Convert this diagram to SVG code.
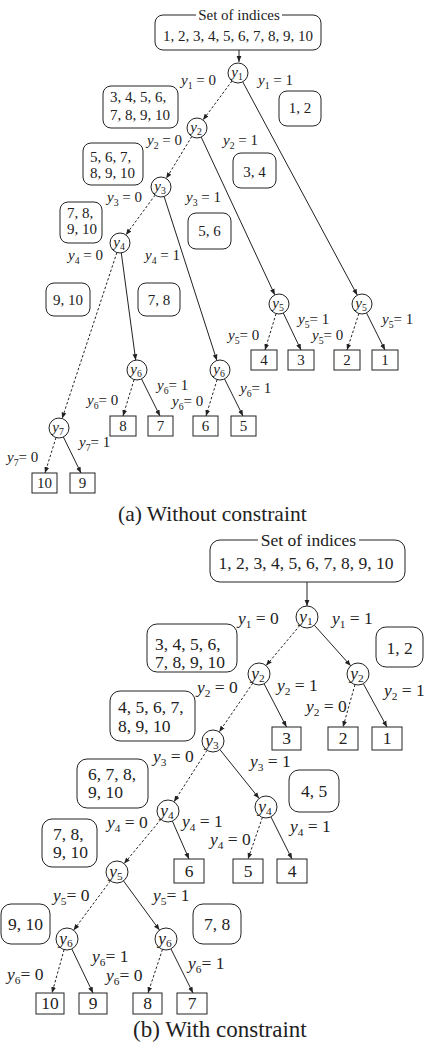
<svg xmlns="http://www.w3.org/2000/svg" width="425" height="1049" viewBox="0 0 425 1049">
<style>
text{font-family:"Liberation Serif","Times New Roman",serif;fill:#222}
.a{font-size:15px}
.b{font-size:17.5px}
.i{font-style:italic}
.s{font-size:0.65em}
.bx{fill:none;stroke:#222;stroke-width:1}
.nd{fill:#fff;stroke:#222;stroke-width:1}
.e{fill:none;stroke:#222;stroke-width:1;marker-end:url(#ah)}
.d{fill:none;stroke:#222;stroke-width:1;stroke-dasharray:2.5 2;marker-end:url(#ah)}
.cap{font-size:21.5px}
.capb{font-size:23px}
</style>
<defs>
<marker id="ah" viewBox="0 0 10 10" refX="10" refY="5" markerWidth="6" markerHeight="6" markerUnits="userSpaceOnUse" orient="auto"><path d="M0,1 L10,5 L0,9 z" fill="#222"/></marker>
</defs>
<rect width="425" height="1049" fill="#fff"/>

<g id="connectors">
<!-- (a) -->
<path class="e" d="M239,50 L239,62"/>
<path class="d" d="M232,81 L203,120"/>
<path class="e" d="M242.7,81.8 L357.3,295.2"/>
<path class="d" d="M191.8,136.5 L166.2,178.5"/>
<path class="e" d="M201.2,137.1 L274.8,294.9"/>
<path class="d" d="M155.1,195.1 L125.9,234.9"/>
<path class="e" d="M164.1,196.5 L216.9,360.5"/>
<path class="d" d="M116.9,252.5 L62.1,418.5"/>
<path class="e" d="M121.3,252.9 L135.7,360.1"/>
<path class="d" d="M276.1,313.6 L265,350"/>
<path class="e" d="M283.3,313 L301,350"/>
<path class="d" d="M358.9,313.5 L347,350"/>
<path class="e" d="M366.5,312.9 L385,350"/>
<path class="d" d="M134.1,379.6 L123,416"/>
<path class="e" d="M141.5,378.9 L160,416"/>
<path class="d" d="M217.1,379.6 L206,416"/>
<path class="e" d="M224.5,378.9 L243,416"/>
<path class="d" d="M56,437.6 L45,473"/>
<path class="e" d="M63.4,437 L81,473"/>
<!-- (b) -->
<path class="e" d="M307,582 L307,606"/>
<path class="d" d="M299.9,625.4 L266.1,665.6"/>
<path class="e" d="M314.3,625.2 L350.7,665.8"/>
<path class="d" d="M252.8,683.1 L219.2,731.9"/>
<path class="e" d="M264.1,683.8 L286.5,727"/>
<path class="d" d="M355,684.6 L343,727"/>
<path class="e" d="M363.3,683.6 L387,727"/>
<path class="d" d="M207,750.3 L174,801.7"/>
<path class="e" d="M219.9,749.6 L259.1,798.4"/>
<path class="d" d="M160.9,819.4 L124.1,863.6"/>
<path class="e" d="M172.4,821.1 L189,859"/>
<path class="d" d="M262.4,817.4 L248,859"/>
<path class="e" d="M270.9,816.8 L292,859"/>
<path class="d" d="M110.4,880.8 L73.6,930.2"/>
<path class="e" d="M123.5,880.9 L159.5,930.1"/>
<path class="d" d="M64.1,949.6 L52,993"/>
<path class="e" d="M71.8,948.9 L93,993"/>
<path class="d" d="M162.5,949.4 L148,993"/>
<path class="e" d="M170.9,948.8 L193,993"/>
</g>

<g id="a-set"><rect class="bx" x="155" y="15" width="166" height="35" rx="8"/><rect x="196" y="9" width="86" height="10" fill="#fff"/><text class="a" x="239" y="20" text-anchor="middle">Set of indices</text><text class="a" x="238" y="41" text-anchor="middle">1, 2, 3, 4, 5, 6, 7, 8, 9, 10</text></g>
<g id="a-s1"><rect class="bx" x="103" y="86" width="75" height="42" rx="8"/><text class="a" x="110" y="102">3, 4, 5, 6,</text><text class="a" x="110" y="120">7, 8, 9, 10</text></g>
<g id="a-s2"><rect class="bx" x="279" y="91" width="42" height="35" rx="8"/><text class="a" x="300" y="113" text-anchor="middle">1, 2</text></g>
<g id="a-s3"><rect class="bx" x="83" y="143" width="60" height="42" rx="8"/><text class="a" x="90" y="162">5, 6, 7,</text><text class="a" x="90" y="178">8, 9, 10</text></g>
<g id="a-s4"><rect class="bx" x="233" y="153" width="43" height="35" rx="8"/><text class="a" x="254.5" y="177" text-anchor="middle">3, 4</text></g>
<g id="a-s5"><rect class="bx" x="60" y="202" width="42" height="41" rx="8"/><text class="a" x="67" y="218">7, 8,</text><text class="a" x="67" y="234">9, 10</text></g>
<g id="a-s6"><rect class="bx" x="188" y="213" width="43" height="36" rx="8"/><text class="a" x="209.5" y="236" text-anchor="middle">5, 6</text></g>
<g id="a-s7"><rect class="bx" x="46" y="283" width="44" height="33" rx="8"/><text class="a" x="68" y="305" text-anchor="middle">9, 10</text></g>
<g id="a-s8"><rect class="bx" x="138" y="283" width="42" height="33" rx="8"/><text class="a" x="159" y="305" text-anchor="middle">7, 8</text></g>

<g id="a-y1"><circle class="nd" cx="238" cy="73" r="10"/><text class="a" x="237" y="77" text-anchor="middle"><tspan class="i">y</tspan><tspan class="s" dy="3">1</tspan></text></g>
<g id="a-y2"><circle class="nd" cx="197" cy="128" r="10"/><text class="a" x="196" y="132" text-anchor="middle"><tspan class="i">y</tspan><tspan class="s" dy="3">2</tspan></text></g>
<g id="a-y3"><circle class="nd" cx="161" cy="187" r="10"/><text class="a" x="160" y="191" text-anchor="middle"><tspan class="i">y</tspan><tspan class="s" dy="3">3</tspan></text></g>
<g id="a-y4"><circle class="nd" cx="120" cy="243" r="10"/><text class="a" x="119" y="247" text-anchor="middle"><tspan class="i">y</tspan><tspan class="s" dy="3">4</tspan></text></g>
<g id="a-y5a"><circle class="nd" cx="279" cy="304" r="10"/><text class="a" x="278" y="308" text-anchor="middle"><tspan class="i">y</tspan><tspan class="s" dy="3">5</tspan></text></g>
<g id="a-y5b"><circle class="nd" cx="362" cy="304" r="10"/><text class="a" x="361" y="308" text-anchor="middle"><tspan class="i">y</tspan><tspan class="s" dy="3">5</tspan></text></g>
<g id="a-y6a"><circle class="nd" cx="137" cy="370" r="10"/><text class="a" x="136" y="374" text-anchor="middle"><tspan class="i">y</tspan><tspan class="s" dy="3">6</tspan></text></g>
<g id="a-y6b"><circle class="nd" cx="220" cy="370" r="10"/><text class="a" x="219" y="374" text-anchor="middle"><tspan class="i">y</tspan><tspan class="s" dy="3">6</tspan></text></g>
<g id="a-y7"><circle class="nd" cx="59" cy="428" r="10"/><text class="a" x="58" y="432" text-anchor="middle"><tspan class="i">y</tspan><tspan class="s" dy="3">7</tspan></text></g>

<g id="a-l4"><rect class="bx" x="251" y="350" width="26" height="20"/><text class="a" x="264" y="365" text-anchor="middle">4</text></g>
<g id="a-l3"><rect class="bx" x="288" y="350" width="26" height="20"/><text class="a" x="301" y="365" text-anchor="middle">3</text></g>
<g id="a-l2"><rect class="bx" x="334" y="350" width="26" height="20"/><text class="a" x="347" y="365" text-anchor="middle">2</text></g>
<g id="a-l1"><rect class="bx" x="372" y="350" width="26" height="20"/><text class="a" x="385" y="365" text-anchor="middle">1</text></g>
<g id="a-l8"><rect class="bx" x="110" y="416" width="26" height="20"/><text class="a" x="123" y="431" text-anchor="middle">8</text></g>
<g id="a-l7"><rect class="bx" x="148" y="416" width="25" height="20"/><text class="a" x="160.5" y="431" text-anchor="middle">7</text></g>
<g id="a-l6"><rect class="bx" x="193" y="416" width="25" height="20"/><text class="a" x="205.5" y="431" text-anchor="middle">6</text></g>
<g id="a-l5"><rect class="bx" x="231" y="416" width="25" height="20"/><text class="a" x="243.5" y="431" text-anchor="middle">5</text></g>
<g id="a-l10"><rect class="bx" x="32" y="473" width="25" height="20"/><text class="a" x="44.5" y="488" text-anchor="middle">10</text></g>
<g id="a-l9"><rect class="bx" x="70" y="473" width="25" height="20"/><text class="a" x="82.5" y="488" text-anchor="middle">9</text></g>

<g id="a-labels">
<text class="a" x="181" y="85"><tspan class="i">y</tspan><tspan class="s" dy="4">1</tspan><tspan dy="-4"> = 0</tspan></text>
<text class="a" x="258" y="85"><tspan class="i">y</tspan><tspan class="s" dy="4">1</tspan><tspan dy="-4"> = 1</tspan></text>
<text class="a" x="147" y="145"><tspan class="i">y</tspan><tspan class="s" dy="4">2</tspan><tspan dy="-4"> = 0</tspan></text>
<text class="a" x="223" y="145"><tspan class="i">y</tspan><tspan class="s" dy="4">2</tspan><tspan dy="-4"> = 1</tspan></text>
<text class="a" x="107" y="202"><tspan class="i">y</tspan><tspan class="s" dy="4">3</tspan><tspan dy="-4"> = 0</tspan></text>
<text class="a" x="186" y="202"><tspan class="i">y</tspan><tspan class="s" dy="4">3</tspan><tspan dy="-4"> = 1</tspan></text>
<text class="a" x="68" y="260"><tspan class="i">y</tspan><tspan class="s" dy="4">4</tspan><tspan dy="-4"> = 0</tspan></text>
<text class="a" x="145" y="260"><tspan class="i">y</tspan><tspan class="s" dy="4">4</tspan><tspan dy="-4"> = 1</tspan></text>
<text class="a" x="228" y="340"><tspan class="i">y</tspan><tspan class="s" dy="4">5</tspan><tspan dy="-4">= 0</tspan></text>
<text class="a" x="298" y="324"><tspan class="i">y</tspan><tspan class="s" dy="4">5</tspan><tspan dy="-4">= 1</tspan></text>
<text class="a" x="312" y="340"><tspan class="i">y</tspan><tspan class="s" dy="4">5</tspan><tspan dy="-4">= 0</tspan></text>
<text class="a" x="382" y="324"><tspan class="i">y</tspan><tspan class="s" dy="4">5</tspan><tspan dy="-4">= 1</tspan></text>
<text class="a" x="87" y="405"><tspan class="i">y</tspan><tspan class="s" dy="4">6</tspan><tspan dy="-4">= 0</tspan></text>
<text class="a" x="157" y="390"><tspan class="i">y</tspan><tspan class="s" dy="4">6</tspan><tspan dy="-4">= 1</tspan></text>
<text class="a" x="172" y="406"><tspan class="i">y</tspan><tspan class="s" dy="4">6</tspan><tspan dy="-4">= 0</tspan></text>
<text class="a" x="240" y="393"><tspan class="i">y</tspan><tspan class="s" dy="4">6</tspan><tspan dy="-4">= 1</tspan></text>
<text class="a" x="7" y="462"><tspan class="i">y</tspan><tspan class="s" dy="4">7</tspan><tspan dy="-4">= 0</tspan></text>
<text class="a" x="79" y="447"><tspan class="i">y</tspan><tspan class="s" dy="4">7</tspan><tspan dy="-4">= 1</tspan></text>
</g>
<text class="cap" x="118" y="521">(a) Without constraint</text>

<g id="b-set"><rect class="bx" x="210" y="540" width="195" height="42" rx="10"/><rect x="258" y="534" width="101" height="11" fill="#fff"/><text class="b" x="308.5" y="546" text-anchor="middle">Set of indices</text><text class="b" x="306" y="569" text-anchor="middle">1, 2, 3, 4, 5, 6, 7, 8, 9, 10</text></g>
<g id="b-s1"><rect class="bx" x="147" y="624" width="90" height="48" rx="10"/><text class="b" x="155" y="650">3, 4, 5, 6,</text><text class="b" x="155" y="668">7, 8, 9, 10</text></g>
<g id="b-s2"><rect class="bx" x="376" y="627" width="47" height="40" rx="10"/><text class="b" x="399.5" y="654" text-anchor="middle">1, 2</text></g>
<g id="b-s3"><rect class="bx" x="110" y="691" width="85" height="50" rx="10"/><text class="b" x="118" y="713">4, 5, 6, 7,</text><text class="b" x="118" y="732">8, 9, 10</text></g>
<g id="b-s4"><rect class="bx" x="77" y="759" width="71" height="49" rx="10"/><text class="b" x="88" y="780">6, 7, 8,</text><text class="b" x="88" y="798">9, 10</text></g>
<g id="b-s5"><rect class="bx" x="289" y="770" width="50" height="42" rx="10"/><text class="b" x="314" y="797" text-anchor="middle">4, 5</text></g>
<g id="b-s6"><rect class="bx" x="42" y="819" width="55" height="48" rx="10"/><text class="b" x="53" y="840">7, 8,</text><text class="b" x="53" y="858">9, 10</text></g>
<g id="b-s7"><rect class="bx" x="1" y="904" width="49" height="40" rx="10"/><text class="b" x="25.5" y="930" text-anchor="middle">9, 10</text></g>
<g id="b-s8"><rect class="bx" x="193" y="904" width="48" height="40" rx="10"/><text class="b" x="217" y="930" text-anchor="middle">7, 8</text></g>

<g id="b-y1"><circle class="nd" cx="307" cy="617" r="11"/><text class="b" x="306" y="622" text-anchor="middle"><tspan class="i">y</tspan><tspan class="s" dy="3">1</tspan></text></g>
<g id="b-y2a"><circle class="nd" cx="259" cy="674" r="11"/><text class="b" x="258" y="679" text-anchor="middle"><tspan class="i">y</tspan><tspan class="s" dy="3">2</tspan></text></g>
<g id="b-y2b"><circle class="nd" cx="358" cy="674" r="11"/><text class="b" x="357" y="679" text-anchor="middle"><tspan class="i">y</tspan><tspan class="s" dy="3">2</tspan></text></g>
<g id="b-y3"><circle class="nd" cx="213" cy="741" r="11"/><text class="b" x="212" y="746" text-anchor="middle"><tspan class="i">y</tspan><tspan class="s" dy="3">3</tspan></text></g>
<g id="b-y4a"><circle class="nd" cx="168" cy="811" r="11"/><text class="b" x="167" y="816" text-anchor="middle"><tspan class="i">y</tspan><tspan class="s" dy="3">4</tspan></text></g>
<g id="b-y4b"><circle class="nd" cx="266" cy="807" r="11"/><text class="b" x="265" y="812" text-anchor="middle"><tspan class="i">y</tspan><tspan class="s" dy="3">4</tspan></text></g>
<g id="b-y5"><circle class="nd" cx="117" cy="872" r="11"/><text class="b" x="116" y="877" text-anchor="middle"><tspan class="i">y</tspan><tspan class="s" dy="3">5</tspan></text></g>
<g id="b-y6a"><circle class="nd" cx="67" cy="939" r="11"/><text class="b" x="66" y="944" text-anchor="middle"><tspan class="i">y</tspan><tspan class="s" dy="3">6</tspan></text></g>
<g id="b-y6b"><circle class="nd" cx="166" cy="939" r="11"/><text class="b" x="165" y="944" text-anchor="middle"><tspan class="i">y</tspan><tspan class="s" dy="3">6</tspan></text></g>

<g id="b-l3"><rect class="bx" x="272" y="727" width="29" height="23"/><text class="b" x="286.5" y="744" text-anchor="middle">3</text></g>
<g id="b-l2"><rect class="bx" x="328" y="727" width="30" height="23"/><text class="b" x="343" y="744" text-anchor="middle">2</text></g>
<g id="b-l1"><rect class="bx" x="372" y="727" width="30" height="23"/><text class="b" x="387" y="744" text-anchor="middle">1</text></g>
<g id="b-l6"><rect class="bx" x="174" y="859" width="30" height="24"/><text class="b" x="189" y="877" text-anchor="middle">6</text></g>
<g id="b-l5"><rect class="bx" x="233" y="859" width="30" height="24"/><text class="b" x="248" y="877" text-anchor="middle">5</text></g>
<g id="b-l4"><rect class="bx" x="277" y="859" width="30" height="24"/><text class="b" x="292" y="877" text-anchor="middle">4</text></g>
<g id="b-l10"><rect class="bx" x="36" y="993" width="28" height="21"/><text class="b" x="50" y="1009" text-anchor="middle">10</text></g>
<g id="b-l9"><rect class="bx" x="79" y="993" width="28" height="21"/><text class="b" x="93" y="1009" text-anchor="middle">9</text></g>
<g id="b-l8"><rect class="bx" x="133" y="993" width="29" height="21"/><text class="b" x="147.5" y="1009" text-anchor="middle">8</text></g>
<g id="b-l7"><rect class="bx" x="177" y="993" width="30" height="21"/><text class="b" x="192" y="1009" text-anchor="middle">7</text></g>

<g id="b-labels">
<text class="b" x="238" y="624"><tspan class="i">y</tspan><tspan class="s" dy="4">1</tspan><tspan dy="-4"> = 0</tspan></text>
<text class="b" x="332" y="624"><tspan class="i">y</tspan><tspan class="s" dy="4">1</tspan><tspan dy="-4"> = 1</tspan></text>
<text class="b" x="197" y="693"><tspan class="i">y</tspan><tspan class="s" dy="4">2</tspan><tspan dy="-4"> = 0</tspan></text>
<text class="b" x="277" y="691"><tspan class="i">y</tspan><tspan class="s" dy="4">2</tspan><tspan dy="-4"> = 1</tspan></text>
<text class="b" x="306" y="712"><tspan class="i">y</tspan><tspan class="s" dy="4">2</tspan><tspan dy="-4"> = 0</tspan></text>
<text class="b" x="384" y="696"><tspan class="i">y</tspan><tspan class="s" dy="4">2</tspan><tspan dy="-4"> = 1</tspan></text>
<text class="b" x="153" y="762"><tspan class="i">y</tspan><tspan class="s" dy="4">3</tspan><tspan dy="-4"> = 0</tspan></text>
<text class="b" x="250" y="767"><tspan class="i">y</tspan><tspan class="s" dy="4">3</tspan><tspan dy="-4"> = 1</tspan></text>
<text class="b" x="107" y="828"><tspan class="i">y</tspan><tspan class="s" dy="4">4</tspan><tspan dy="-4"> = 0</tspan></text>
<text class="b" x="182" y="827"><tspan class="i">y</tspan><tspan class="s" dy="4">4</tspan><tspan dy="-4"> = 1</tspan></text>
<text class="b" x="210" y="845"><tspan class="i">y</tspan><tspan class="s" dy="4">4</tspan><tspan dy="-4"> = 0</tspan></text>
<text class="b" x="290" y="832"><tspan class="i">y</tspan><tspan class="s" dy="4">4</tspan><tspan dy="-4"> = 1</tspan></text>
<text class="b" x="53" y="901"><tspan class="i">y</tspan><tspan class="s" dy="4">5</tspan><tspan dy="-4">= 0</tspan></text>
<text class="b" x="153" y="901"><tspan class="i">y</tspan><tspan class="s" dy="4">5</tspan><tspan dy="-4">= 1</tspan></text>
<text class="b" x="7" y="980"><tspan class="i">y</tspan><tspan class="s" dy="4">6</tspan><tspan dy="-4">= 0</tspan></text>
<text class="b" x="92" y="962"><tspan class="i">y</tspan><tspan class="s" dy="4">6</tspan><tspan dy="-4">= 1</tspan></text>
<text class="b" x="106" y="981"><tspan class="i">y</tspan><tspan class="s" dy="4">6</tspan><tspan dy="-4">= 0</tspan></text>
<text class="b" x="188" y="969"><tspan class="i">y</tspan><tspan class="s" dy="4">6</tspan><tspan dy="-4">= 1</tspan></text>
</g>
<text class="capb" x="133" y="1037">(b) With constraint</text>
</svg>
